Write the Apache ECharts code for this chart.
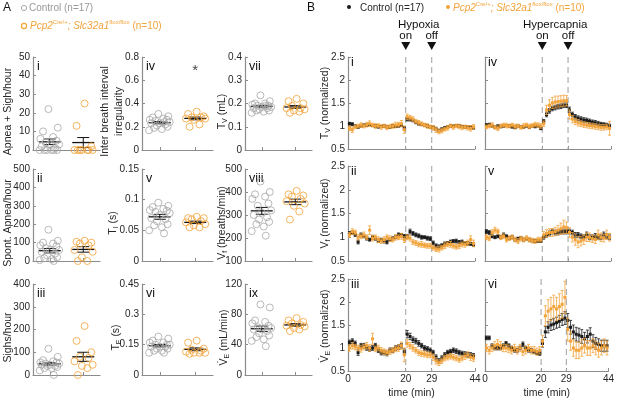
<!DOCTYPE html>
<html>
<head>
<meta charset="utf-8">
<script src="https://cdn.jsdelivr.net/npm/echarts@6/dist/echarts.min.js"></script>
<style>
html, body { margin: 0; padding: 0; background: #fff; }
#main { width: 617px; height: 400px; }
</style>
</head>
<body>
<div id="main"></div>
<script>
// ---- panel A : per-animal values (control n=17, mutant n=10) ----
var groupX = [0.25, 0.75];
var ctrlJitter = [-0.02, 0.12, -0.1, 0.05, -0.14, 0.1, -0.06, 0.14, 0.0, -0.12, 0.08, -0.04, 0.11, -0.08, 0.03, -0.15, 0.06];
var mutJitter = [0.02, -0.1, 0.12, -0.05, 0.08, -0.13, 0.14, -0.02, 0.06, -0.08];

var ctrlApneaSigh = [22, 12, 10, 7, 6, 5, 4, 3, 3, 2, 1, 0, 0, 0, 0, 0, 0];
var mutApneaSigh = [25, 13, 2, 0, 0, 0, 0, 0, 0, 0];
var meanApneaSigh = [4.4, 4.0];
var semApneaSigh = [1.5, 2.7];

var ctrlIrreg = [0.31, 0.29, 0.28, 0.27, 0.26, 0.26, 0.25, 0.24, 0.23, 0.23, 0.22, 0.21, 0.20, 0.19, 0.18, 0.17, 0.24];
var mutIrreg = [0.33, 0.31, 0.29, 0.28, 0.28, 0.27, 0.27, 0.26, 0.22, 0.20];
var meanIrreg = [0.235, 0.272];
var semIrreg = [0.01, 0.012];
var starIrreg = 0.68;

var ctrlTv = [0.235, 0.21, 0.20, 0.20, 0.195, 0.19, 0.19, 0.185, 0.185, 0.18, 0.18, 0.175, 0.17, 0.17, 0.165, 0.16, 0.19];
var mutTv = [0.22, 0.21, 0.20, 0.19, 0.18, 0.18, 0.175, 0.17, 0.165, 0.16];
var meanTv = [0.188, 0.185];
var semTv = [0.004, 0.006];

var ctrlApnea = [170, 110, 100, 95, 85, 80, 70, 60, 60, 50, 40, 30, 20, 15, 10, 5, 0];
var mutApnea = [110, 105, 100, 95, 85, 60, 50, 20, 0, 0];
var meanApnea = [56, 63];
var semApnea = [12, 15];

var ctrlTi = [0.095, 0.09, 0.088, 0.085, 0.083, 0.082, 0.08, 0.078, 0.075, 0.07, 0.068, 0.065, 0.06, 0.058, 0.055, 0.05, 0.045];
var mutTi = [0.072, 0.07, 0.07, 0.068, 0.065, 0.063, 0.06, 0.058, 0.055, 0.055];
var meanTi = [0.072, 0.063];
var semTi = [0.004, 0.002];

var ctrlVf = [445, 400, 390, 380, 370, 350, 340, 320, 310, 300, 290, 280, 270, 260, 250, 230, 210];
var mutVf = [405, 390, 385, 380, 370, 360, 350, 340, 315, 280];
var meanVf = [318, 357];
var semVf = [15, 12];

var ctrlSighs = [115, 80, 65, 60, 55, 55, 50, 50, 45, 45, 40, 40, 35, 30, 30, 20, 0];
var mutSighs = [215, 150, 100, 80, 75, 60, 45, 40, 30, 0];
var meanSighs = [49, 80];
var semSighs = [6, 20];

var ctrlTe = [0.19, 0.18, 0.17, 0.16, 0.16, 0.15, 0.15, 0.15, 0.14, 0.14, 0.14, 0.13, 0.13, 0.12, 0.12, 0.11, 0.11];
var mutTe = [0.17, 0.16, 0.13, 0.125, 0.12, 0.115, 0.11, 0.11, 0.11, 0.105];
var meanTe = [0.145, 0.127];
var semTe = [0.006, 0.007];

var ctrlVe = [93, 89, 72, 70, 68, 65, 63, 62, 60, 60, 58, 55, 52, 50, 47, 45, 38];
var mutVe = [75, 72, 70, 68, 66, 65, 64, 62, 60, 58];
var meanVe = [61, 66];
var semVe = [3.5, 1.7];

// ---- panel B : normalized time course (mean, sem) ----
var timeMin = [0.5, 1.5, 2.5, 3.5, 4.5, 5.5, 6.5, 7.5, 8.5, 9.5, 10.5, 11.5, 12.5, 13.5, 14.5, 15.5, 16.5, 17.5, 18.5, 19.5,
  20.5, 21.5, 22.5, 23.5, 24.5, 25.5, 26.5, 27.5, 28.5,
  29.5, 30.5, 31.5, 32.5, 33.5, 34.5, 35.5, 36.5, 37.5, 38.5, 39.5, 40.5, 41.5, 42.5, 43.5];
var timeTicks = [0, 20, 29, 44];
var eventTimes = [20, 29];
var eventLabels = ['on', 'off'];

var tvHypCtrl = [1.05, 1.04, 1.00, 0.98, 1.00, 1.02, 1.02, 1.03, 1.01, 1.00, 0.98, 0.99, 1.00, 0.98, 0.97, 1.00, 0.99, 1.00, 1.02, 0.95,
  1.15, 1.14, 1.12, 1.08, 1.05, 1.03, 1.02, 1.00, 0.98,
  0.97, 0.93, 0.90, 0.93, 0.96, 0.98, 1.00, 1.00, 1.01, 1.00, 0.99, 0.98, 0.98, 0.97, 0.96];
var tvHypCtrlErr = [0.03, 0.03, 0.02, 0.03, 0.02, 0.02, 0.03, 0.02, 0.02, 0.03, 0.02, 0.02, 0.03, 0.02, 0.02, 0.03, 0.02, 0.02, 0.03, 0.04,
  0.04, 0.03, 0.03, 0.03, 0.03, 0.02, 0.02, 0.03, 0.02,
  0.03, 0.03, 0.03, 0.03, 0.02, 0.03, 0.03, 0.02, 0.02, 0.03, 0.02, 0.03, 0.02, 0.03, 0.03];
var tvHypMut = [0.95, 0.92, 0.98, 1.00, 1.02, 1.00, 1.03, 1.05, 1.02, 1.00, 1.01, 0.98, 1.00, 0.97, 0.99, 1.00, 1.02, 1.03, 1.05, 0.92,
  1.20, 1.18, 1.15, 1.10, 1.07, 1.05, 1.02, 1.00, 0.98,
  0.96, 0.92, 0.88, 0.90, 0.93, 0.96, 1.00, 0.98, 1.00, 0.99, 0.97, 0.98, 0.96, 0.95, 0.98];
var tvHypMutErr = [0.05, 0.06, 0.04, 0.04, 0.05, 0.04, 0.05, 0.06, 0.04, 0.05, 0.04, 0.05, 0.04, 0.05, 0.04, 0.05, 0.06, 0.05, 0.07, 0.08,
  0.06, 0.05, 0.05, 0.04, 0.05, 0.04, 0.04, 0.05, 0.04,
  0.05, 0.06, 0.05, 0.05, 0.04, 0.05, 0.04, 0.05, 0.04, 0.05, 0.05, 0.04, 0.05, 0.06, 0.05];

var tvHcCtrl = [1.02, 1.03, 1.00, 0.98, 1.00, 0.99, 1.00, 1.01, 1.00, 0.98, 0.97, 1.00, 0.99, 0.98, 1.00, 0.98, 1.00, 0.99, 1.00, 0.95,
  1.10, 1.25, 1.33, 1.38, 1.40, 1.42, 1.43, 1.45, 1.45,
  1.35, 1.25, 1.20, 1.17, 1.15, 1.13, 1.12, 1.10, 1.08, 1.07, 1.05, 1.04, 1.03, 1.02, 1.00];
var tvHcCtrlErr = [0.03, 0.03, 0.02, 0.03, 0.02, 0.03, 0.02, 0.02, 0.03, 0.02, 0.03, 0.02, 0.02, 0.03, 0.02, 0.03, 0.02, 0.03, 0.02, 0.03,
  0.04, 0.05, 0.05, 0.05, 0.05, 0.05, 0.05, 0.05, 0.05,
  0.06, 0.05, 0.05, 0.05, 0.05, 0.05, 0.05, 0.05, 0.05, 0.05, 0.05, 0.04, 0.04, 0.04, 0.04];
var tvHcMut = [0.98, 1.00, 1.02, 0.97, 0.95, 1.00, 1.02, 1.01, 1.00, 1.02, 0.99, 1.00, 0.97, 1.00, 1.02, 0.99, 1.01, 1.03, 1.02, 1.00,
  1.05, 1.35, 1.45, 1.50, 1.52, 1.53, 1.54, 1.55, 1.55,
  1.25, 1.15, 1.10, 1.07, 1.05, 1.03, 1.02, 1.01, 1.00, 0.99, 0.98, 0.97, 0.97, 0.98, 0.95];
var tvHcMutErr = [0.04, 0.04, 0.05, 0.04, 0.05, 0.04, 0.04, 0.05, 0.04, 0.04, 0.05, 0.04, 0.04, 0.05, 0.04, 0.05, 0.04, 0.05, 0.05, 0.05,
  0.06, 0.10, 0.12, 0.12, 0.13, 0.12, 0.12, 0.12, 0.11,
  0.10, 0.08, 0.07, 0.07, 0.06, 0.06, 0.06, 0.06, 0.06, 0.06, 0.06, 0.06, 0.06, 0.06, 0.15];

var vfHypCtrl = [1.08, 1.10, 1.05, 0.90, 1.05, 1.02, 0.98, 0.95, 1.00, 0.97, 0.93, 0.95, 0.92, 0.90, 0.95, 0.97, 1.00, 1.05, 1.05, 1.02,
  1.02, 1.12, 1.08, 1.05, 1.03, 1.00, 1.00, 0.98, 0.97,
  0.88, 0.82, 0.80, 0.83, 0.86, 0.88, 0.90, 0.92, 0.92, 0.90, 0.90, 0.88, 0.87, 0.86, 0.85];
var vfHypCtrlErr = [0.04, 0.04, 0.03, 0.04, 0.04, 0.03, 0.04, 0.03, 0.04, 0.03, 0.04, 0.03, 0.04, 0.04, 0.03, 0.04, 0.03, 0.04, 0.03, 0.04,
  0.04, 0.05, 0.04, 0.04, 0.04, 0.04, 0.03, 0.04, 0.04,
  0.04, 0.04, 0.04, 0.03, 0.04, 0.03, 0.04, 0.03, 0.04, 0.03, 0.04, 0.03, 0.04, 0.03, 0.04];
var vfHypMut = [1.05, 1.12, 1.10, 1.00, 1.02, 1.05, 1.00, 1.15, 0.98, 1.00, 0.95, 0.92, 0.95, 1.00, 0.97, 0.95, 1.00, 1.00, 1.02, 0.95,
  1.00, 0.98, 0.90, 0.88, 0.85, 0.85, 0.83, 0.82, 0.82,
  0.78, 0.75, 0.75, 0.78, 0.82, 0.85, 0.85, 0.82, 0.80, 0.82, 0.85, 0.85, 0.88, 0.95, 0.87];
var vfHypMutErr = [0.05, 0.06, 0.05, 0.06, 0.05, 0.06, 0.05, 0.09, 0.06, 0.05, 0.06, 0.05, 0.06, 0.05, 0.06, 0.05, 0.06, 0.05, 0.06, 0.06,
  0.05, 0.06, 0.05, 0.05, 0.05, 0.06, 0.05, 0.05, 0.05,
  0.05, 0.05, 0.06, 0.05, 0.06, 0.05, 0.06, 0.05, 0.05, 0.06, 0.05, 0.06, 0.06, 0.08, 0.07];

var vfHcCtrl = [1.12, 1.10, 1.02, 1.00, 1.02, 1.00, 1.05, 1.02, 0.98, 1.00, 0.95, 0.97, 0.98, 0.95, 0.97, 0.95, 0.93, 0.92, 0.92, 0.92,
  1.00, 1.05, 1.08, 1.12, 1.10, 1.10, 1.12, 1.12, 1.12,
  1.12, 1.10, 1.05, 1.05, 1.02, 1.00, 1.05, 1.00, 1.00, 1.02, 1.00, 1.00, 1.05, 1.02, 1.00];
var vfHcCtrlErr = [0.04, 0.04, 0.03, 0.03, 0.03, 0.03, 0.04, 0.03, 0.03, 0.03, 0.03, 0.03, 0.03, 0.03, 0.03, 0.03, 0.03, 0.03, 0.03, 0.03,
  0.04, 0.05, 0.05, 0.05, 0.05, 0.05, 0.05, 0.05, 0.05,
  0.05, 0.05, 0.05, 0.05, 0.05, 0.05, 0.06, 0.05, 0.05, 0.06, 0.05, 0.05, 0.06, 0.05, 0.05];
var vfHcMut = [1.00, 0.98, 1.10, 1.15, 1.12, 1.00, 1.02, 0.95, 0.98, 1.00, 0.95, 0.92, 0.97, 0.95, 0.98, 0.95, 0.93, 0.92, 0.95, 0.95,
  1.05, 1.08, 1.10, 1.10, 1.12, 1.15, 1.18, 1.22, 1.20,
  1.10, 1.00, 0.95, 0.90, 0.92, 0.95, 1.00, 1.00, 0.97, 0.95, 1.05, 1.00, 0.98, 1.05, 1.00];
var vfHcMutErr = [0.05, 0.05, 0.06, 0.06, 0.05, 0.05, 0.05, 0.05, 0.05, 0.05, 0.05, 0.05, 0.05, 0.05, 0.05, 0.05, 0.05, 0.05, 0.05, 0.05,
  0.07, 0.08, 0.08, 0.08, 0.09, 0.10, 0.12, 0.14, 0.12,
  0.10, 0.10, 0.12, 0.12, 0.10, 0.10, 0.09, 0.09, 0.08, 0.08, 0.10, 0.09, 0.08, 0.10, 0.08];

var veHypCtrl = [1.12, 1.15, 1.10, 0.90, 1.05, 1.05, 1.00, 0.98, 1.00, 1.05, 0.95, 0.90, 0.90, 0.88, 0.95, 0.95, 1.00, 1.02, 1.05, 0.92,
  1.30, 1.25, 1.18, 1.15, 1.10, 1.05, 1.00, 0.98, 0.95,
  0.90, 0.80, 0.72, 0.78, 0.85, 0.90, 0.92, 0.95, 0.93, 0.90, 0.88, 0.87, 0.85, 0.85, 0.83];
var veHypCtrlErr = [0.05, 0.05, 0.05, 0.06, 0.05, 0.05, 0.05, 0.05, 0.05, 0.05, 0.05, 0.05, 0.05, 0.05, 0.05, 0.05, 0.05, 0.05, 0.05, 0.06,
  0.08, 0.07, 0.06, 0.06, 0.06, 0.05, 0.05, 0.05, 0.05,
  0.05, 0.05, 0.05, 0.05, 0.05, 0.05, 0.05, 0.05, 0.05, 0.05, 0.05, 0.05, 0.05, 0.05, 0.05];
var veHypMut = [1.00, 1.05, 1.02, 1.00, 0.98, 1.02, 1.05, 1.00, 1.20, 0.98, 1.00, 0.95, 0.92, 0.90, 0.92, 0.95, 0.98, 1.00, 1.05, 0.85,
  1.10, 1.05, 1.00, 0.95, 0.90, 0.88, 0.87, 0.85, 0.85,
  0.80, 0.72, 0.68, 0.72, 0.78, 0.80, 0.82, 0.80, 0.78, 0.75, 0.78, 0.82, 0.85, 0.80, 0.78];
var veHypMutErr = [0.07, 0.07, 0.06, 0.06, 0.07, 0.06, 0.07, 0.07, 0.12, 0.06, 0.06, 0.06, 0.06, 0.06, 0.06, 0.06, 0.06, 0.07, 0.08, 0.15,
  0.08, 0.07, 0.07, 0.06, 0.06, 0.06, 0.06, 0.06, 0.06,
  0.07, 0.07, 0.06, 0.06, 0.06, 0.06, 0.06, 0.06, 0.06, 0.06, 0.06, 0.07, 0.07, 0.07, 0.07];

var veHcCtrl = [1.22, 1.22, 1.05, 1.00, 1.00, 1.00, 1.05, 1.10, 1.05, 1.00, 0.95, 0.95, 1.00, 1.08, 1.00, 0.95, 0.95, 0.92, 0.90, 0.88,
  1.10, 1.35, 1.45, 1.50, 1.52, 1.55, 1.58, 1.62, 1.65,
  1.60, 1.45, 1.35, 1.30, 1.28, 1.25, 1.20, 1.25, 1.30, 1.15, 1.10, 1.08, 1.05, 1.05, 1.05];
var veHcCtrlErr = [0.04, 0.04, 0.04, 0.04, 0.04, 0.04, 0.04, 0.04, 0.04, 0.04, 0.04, 0.04, 0.04, 0.05, 0.04, 0.04, 0.04, 0.04, 0.04, 0.04,
  0.08, 0.12, 0.12, 0.12, 0.12, 0.12, 0.13, 0.13, 0.14,
  0.15, 0.15, 0.15, 0.15, 0.15, 0.15, 0.14, 0.14, 0.14, 0.14, 0.13, 0.12, 0.12, 0.12, 0.12];
var veHcMut = [1.00, 0.95, 1.00, 1.05, 1.08, 1.05, 1.00, 1.00, 0.98, 0.95, 1.00, 0.95, 1.00, 0.92, 0.95, 1.00, 0.95, 0.95, 0.92, 0.95,
  1.15, 1.70, 1.80, 1.85, 1.90, 1.85, 1.90, 1.95, 2.10,
  1.40, 1.15, 1.00, 0.95, 0.95, 1.00, 1.05, 1.00, 1.00, 1.05, 1.00, 0.95, 1.00, 1.05, 1.00];
var veHcMutErr = [0.08, 0.08, 0.08, 0.09, 0.10, 0.09, 0.08, 0.08, 0.08, 0.08, 0.08, 0.08, 0.08, 0.08, 0.08, 0.08, 0.08, 0.08, 0.08, 0.08,
  0.12, 0.22, 0.25, 0.25, 0.25, 0.25, 0.28, 0.30, 0.35,
  0.25, 0.20, 0.18, 0.18, 0.18, 0.18, 0.16, 0.16, 0.16, 0.15, 0.15, 0.15, 0.15, 0.15, 0.15];

// ---- styles / layout ----
var FONT = '"Liberation Sans", Arial, sans-serif';
var ctrlGray = '#a8a8a8';
var mutOrange = '#f2a33a';
var ctrlBlack = '#1a1a1a';
var axisGray = '#8c8c8c';
var textDark = '#262626';

var colsA = [{left: 33, width: 67}, {left: 142, width: 71}, {left: 245, width: 67}];
var rowsA = [{top: 57, height: 93}, {top: 169, height: 92}, {top: 284, height: 91}];
var colsB = [{left: 348, width: 127}, {left: 485, width: 126}];
var rowsB = [{top: 57, height: 92}, {top: 166, height: 95}, {top: 279, height: 94}];

var subRich = {
  sub: {fontSize: 7, verticalAlign: 'bottom', lineHeight: 7, fontFamily: FONT, fill: textDark}
};

var panelsA = [
  {r: 0, c: 0, tag: 'i', ctrl: ctrlApneaSigh, mut: mutApneaSigh, mean: meanApneaSigh, sem: semApneaSigh, min: 0, max: 50, step: 10,
    label: 'Apnea + Sigh/hour', lx: 8},
  {r: 0, c: 1, tag: 'iv', ctrl: ctrlIrreg, mut: mutIrreg, mean: meanIrreg, sem: semIrreg, min: 0, max: 0.8, step: 0.2,
    label: 'Inter breath interval\nirregularity', lx: 112, star: starIrreg},
  {r: 0, c: 2, tag: 'vii', ctrl: ctrlTv, mut: mutTv, mean: meanTv, sem: semTv, min: 0, max: 0.4, step: 0.1,
    label: 'T{sub|V} (mL)', lx: 222},
  {r: 1, c: 0, tag: 'ii', ctrl: ctrlApnea, mut: mutApnea, mean: meanApnea, sem: semApnea, min: 0, max: 500, step: 100,
    label: 'Spont. Apnea/hour', lx: 8},
  {r: 1, c: 1, tag: 'v', ctrl: ctrlTi, mut: mutTi, mean: meanTi, sem: semTi, min: 0, max: 0.15, step: 0.05,
    label: 'T{sub|I} (s)', lx: 113},
  {r: 1, c: 2, tag: 'viii', ctrl: ctrlVf, mut: mutVf, mean: meanVf, sem: semVf, min: 100, max: 500, step: 100,
    label: 'V{sub|f} (breaths/min)', lx: 222},
  {r: 2, c: 0, tag: 'iii', ctrl: ctrlSighs, mut: mutSighs, mean: meanSighs, sem: semSighs, min: 0, max: 400, step: 100,
    label: 'Sighs/hour', lx: 8},
  {r: 2, c: 1, tag: 'vi', ctrl: ctrlTe, mut: mutTe, mean: meanTe, sem: semTe, min: 0, max: 0.45, step: 0.15,
    label: 'T{sub|E} (s)', lx: 116},
  {r: 2, c: 2, tag: 'ix', ctrl: ctrlVe, mut: mutVe, mean: meanVe, sem: semVe, min: 0, max: 120, step: 40,
    label: 'V\u0307{sub|E} (mL/min)', lx: 224}
];

var panelsB = [
  {r: 0, c: 0, tag: 'i', ctrl: tvHypCtrl, ctrlErr: tvHypCtrlErr, mut: tvHypMut, mutErr: tvHypMutErr, title: 'Hypoxia'},
  {r: 0, c: 1, tag: 'iv', ctrl: tvHcCtrl, ctrlErr: tvHcCtrlErr, mut: tvHcMut, mutErr: tvHcMutErr, title: 'Hypercapnia'},
  {r: 1, c: 0, tag: 'ii', ctrl: vfHypCtrl, ctrlErr: vfHypCtrlErr, mut: vfHypMut, mutErr: vfHypMutErr},
  {r: 1, c: 1, tag: 'v', ctrl: vfHcCtrl, ctrlErr: vfHcCtrlErr, mut: vfHcMut, mutErr: vfHcMutErr},
  {r: 2, c: 0, tag: 'iii', ctrl: veHypCtrl, ctrlErr: veHypCtrlErr, mut: veHypMut, mutErr: veHypMutErr},
  {r: 2, c: 1, tag: 'vi', ctrl: veHcCtrl, ctrlErr: veHcCtrlErr, mut: veHcMut, mutErr: veHcMutErr}
];
var labelsB = ['T{sub|V} (normalized)', 'V{sub|f} (normalized)', 'V\u0307{sub|E} (normalized)'];

// mean line + sem bar for the dot plots
function meanSemItem(params, api) {
  var x = api.value(0), m = api.value(1), s = api.value(2);
  var c = api.coord([x, m]);
  var hi = api.coord([x, m + s]);
  var lo = api.coord([x, m - s]);
  var st = {stroke: '#111', lineWidth: 1};
  return {
    type: 'group',
    children: [
      {type: 'line', shape: {x1: c[0] - 11, y1: c[1], x2: c[0] + 11, y2: c[1]}, style: {stroke: '#111', lineWidth: 1.3}},
      {type: 'line', shape: {x1: c[0], y1: hi[1], x2: c[0], y2: lo[1]}, style: st},
      {type: 'line', shape: {x1: c[0] - 6, y1: hi[1], x2: c[0] + 6, y2: hi[1]}, style: st},
      {type: 'line', shape: {x1: c[0] - 6, y1: lo[1], x2: c[0] + 6, y2: lo[1]}, style: st}
    ]
  };
}

// dot + error bar for the time courses
function errDotItem(color) {
  return function (params, api) {
    var t = api.value(0), m = api.value(1), e = api.value(2);
    var c = api.coord([t, m]);
    var hi = api.coord([t, m + e]);
    var lo = api.coord([t, m - e]);
    var st = {stroke: color, lineWidth: 0.8};
    return {
      type: 'group',
      children: [
        {type: 'line', shape: {x1: c[0], y1: hi[1], x2: c[0], y2: lo[1]}, style: st},
        {type: 'line', shape: {x1: c[0] - 1.5, y1: hi[1], x2: c[0] + 1.5, y2: hi[1]}, style: st},
        {type: 'line', shape: {x1: c[0] - 1.5, y1: lo[1], x2: c[0] + 1.5, y2: lo[1]}, style: st},
        {type: 'rect', shape: {x: c[0] - 1.5, y: c[1] - 1.5, width: 3, height: 3}, style: {fill: color}}
      ]
    };
  };
}

// dashed lines at stimulus on/off
function eventLineItem(params, api) {
  var cs = params.coordSys;
  var x = api.coord([api.value(0), 1])[0];
  return {
    type: 'line',
    shape: {x1: x, y1: cs.y, x2: x, y2: cs.y + cs.height},
    style: {stroke: '#a8a8a8', lineWidth: 1.1, lineDash: [6, 4]}
  };
}

// triangles + on/off + stimulus name above top row
function eventMarkItem(title) {
  return function (params, api) {
    var cs = params.coordSys;
    var x = api.coord([api.value(0), 1])[0];
    var top = cs.y;
    var kids = [
      {type: 'polygon', shape: {points: [[x - 4.5, top - 15], [x + 4.5, top - 15], [x, top - 7]]}, style: {fill: '#111'}},
      {type: 'text', style: {text: eventLabels[params.dataIndex], x: x, y: top - 21, align: 'center', verticalAlign: 'middle',
        font: '11.5px ' + FONT, fill: '#111'}}
    ];
    if (params.dataIndex === 0) {
      var mid = api.coord([(eventTimes[0] + eventTimes[1]) / 2, 1])[0];
      kids.push({type: 'text', style: {text: title, x: mid, y: top - 32, align: 'center', verticalAlign: 'middle',
        font: '11.5px ' + FONT, fill: '#111'}});
    }
    return {type: 'group', children: kids};
  };
}

function vLabel(x, y, text) {
  return {
    type: 'text', x: x, y: y, rotation: Math.PI / 2, silent: true,
    style: {text: text, rich: subRich, align: 'center', verticalAlign: 'middle',
      font: '10.5px ' + FONT, fill: textDark, lineHeight: 14}
  };
}

function tagText(x, y, text) {
  return {type: 'text', x: x, y: y, silent: true,
    style: {text: text, align: 'left', verticalAlign: 'middle', font: '12.5px ' + FONT, fill: '#111'}};
}

var grids = [], xAxes = [], yAxes = [], series = [], graphics = [];

panelsA.forEach(function (p) {
  var gi = grids.length;
  var col = colsA[p.c], row = rowsA[p.r];
  grids.push({left: col.left, width: col.width, top: row.top, height: row.height});
  xAxes.push({
    gridIndex: gi, type: 'value', min: 0, max: 1,
    axisLine: {lineStyle: {color: axisGray, width: 1.2}},
    axisTick: {customValues: groupX, inside: true, length: 3, lineStyle: {color: axisGray}},
    axisLabel: {show: false}, splitLine: {show: false}
  });
  yAxes.push({
    gridIndex: gi, type: 'value', min: p.min, max: p.max, interval: p.step,
    axisLine: {show: true, lineStyle: {color: axisGray, width: 1.2}},
    axisTick: {show: true, inside: true, length: 3, lineStyle: {color: axisGray}},
    axisLabel: {fontSize: 10, color: textDark, margin: 3, fontFamily: FONT},
    splitLine: {show: false}
  });
  series.push({
    type: 'scatter', xAxisIndex: gi, yAxisIndex: gi, symbol: 'circle', symbolSize: 7, silent: true,
    itemStyle: {color: 'rgba(255,255,255,0)', borderColor: ctrlGray, borderWidth: 1},
    data: p.ctrl.map(function (v, i) { return [groupX[0] + ctrlJitter[i], v]; })
  });
  series.push({
    type: 'scatter', xAxisIndex: gi, yAxisIndex: gi, symbol: 'circle', symbolSize: 7, silent: true,
    itemStyle: {color: 'rgba(255,255,255,0)', borderColor: mutOrange, borderWidth: 1},
    data: p.mut.map(function (v, i) { return [groupX[1] + mutJitter[i], v]; })
  });
  series.push({
    type: 'custom', xAxisIndex: gi, yAxisIndex: gi, silent: true, renderItem: meanSemItem,
    data: [[groupX[0], p.mean[0], p.sem[0]], [groupX[1], p.mean[1], p.sem[1]]]
  });
  if (p.star != null) {
    series.push({
      type: 'scatter', xAxisIndex: gi, yAxisIndex: gi, symbolSize: 0, silent: true,
      label: {show: true, position: 'inside', formatter: '*', fontSize: 15, color: '#111', fontFamily: FONT},
      data: [[groupX[1], p.star]]
    });
  }
  graphics.push(tagText(col.left + 4, row.top + 10, p.tag));
  graphics.push(vLabel(p.lx, row.top + row.height / 2 + 8, p.label));
});

panelsB.forEach(function (p) {
  var gi = grids.length;
  var col = colsB[p.c], row = rowsB[p.r];
  var bottom = p.r === 2;
  grids.push({left: col.left, width: col.width, top: row.top, height: row.height});
  xAxes.push({
    gridIndex: gi, type: 'value', min: 0, max: 44,
    axisLine: {lineStyle: {color: axisGray, width: 1.2}},
    axisTick: {customValues: timeTicks, inside: true, length: 3, lineStyle: {color: axisGray}},
    axisLabel: {show: bottom, customValues: timeTicks, fontSize: 10, color: textDark, margin: 3, fontFamily: FONT},
    name: bottom ? 'time (min)' : '', nameLocation: 'middle', nameGap: 17,
    nameTextStyle: {fontSize: 10.5, color: textDark, fontFamily: FONT},
    splitLine: {show: false}
  });
  yAxes.push({
    gridIndex: gi, type: 'value', min: 0.5, max: 2.5, interval: 0.5,
    axisLine: {show: true, lineStyle: {color: axisGray, width: 1.2}},
    axisTick: {show: true, inside: true, length: 3, lineStyle: {color: axisGray}},
    axisLabel: {show: p.c === 0, fontSize: 10, color: textDark, margin: 3, fontFamily: FONT},
    splitLine: {show: false}
  });
  series.push({
    type: 'custom', xAxisIndex: gi, yAxisIndex: gi, silent: true, renderItem: eventLineItem,
    data: eventTimes.map(function (t) { return [t]; })
  });
  series.push({
    type: 'custom', xAxisIndex: gi, yAxisIndex: gi, silent: true, renderItem: errDotItem(ctrlBlack),
    data: timeMin.map(function (t, i) { return [t, p.ctrl[i], p.ctrlErr[i]]; })
  });
  series.push({
    type: 'custom', xAxisIndex: gi, yAxisIndex: gi, silent: true, renderItem: errDotItem(mutOrange),
    data: timeMin.map(function (t, i) { return [t, p.mut[i], p.mutErr[i]]; })
  });
  if (p.title) {
    series.push({
      type: 'custom', xAxisIndex: gi, yAxisIndex: gi, silent: true, clip: false, renderItem: eventMarkItem(p.title),
      data: eventTimes.map(function (t) { return [t]; })
    });
  }
  graphics.push(tagText(col.left + 3, row.top + 6, p.tag));
  if (p.c === 0) {
    graphics.push(vLabel(325, row.top + row.height / 2, labelsB[p.r]));
  }
});

// panel letters and legends
graphics.push({type: 'text', x: 3, y: 8, silent: true,
  style: {text: 'A', font: '12px ' + FONT, fill: '#111', verticalAlign: 'middle'}});
graphics.push({type: 'text', x: 307, y: 8, silent: true,
  style: {text: 'B', font: '12px ' + FONT, fill: '#111', verticalAlign: 'middle'}});

var legendRich = {
  it: {fontStyle: 'italic', fontSize: 10, fontFamily: FONT, lineHeight: 14},
  sup: {fontSize: 6, verticalAlign: 'top', lineHeight: 6, fontFamily: FONT},
  n: {fontSize: 10, fontFamily: FONT, lineHeight: 14}
};
var mutLegendText = '{it|Pcp2}{sup|Cre/+}{it|; Slc32a1}{sup|flox/flox}{n| (n=10)}';

graphics.push({type: 'circle', shape: {cx: 24, cy: 8, r: 2.6}, silent: true, style: {fill: 'none', stroke: ctrlGray, lineWidth: 1}});
graphics.push({type: 'text', x: 29, y: 8, silent: true,
  style: {text: 'Control (n=17)', font: '10px ' + FONT, fill: '#999', verticalAlign: 'middle'}});
graphics.push({type: 'circle', shape: {cx: 24, cy: 26, r: 2.6}, silent: true, style: {fill: 'none', stroke: mutOrange, lineWidth: 1.2}});
graphics.push({type: 'text', x: 30, y: 26, silent: true,
  style: {text: mutLegendText, rich: legendRich, fill: mutOrange, verticalAlign: 'middle', font: '10px ' + FONT}});

graphics.push({type: 'circle', shape: {cx: 349, cy: 7, r: 2}, silent: true, style: {fill: ctrlBlack}});
graphics.push({type: 'text', x: 360, y: 8, silent: true,
  style: {text: 'Control (n=17)', font: '10px ' + FONT, fill: textDark, verticalAlign: 'middle'}});
graphics.push({type: 'circle', shape: {cx: 448, cy: 7, r: 2}, silent: true, style: {fill: mutOrange}});
graphics.push({type: 'text', x: 453, y: 8, silent: true,
  style: {text: mutLegendText, rich: legendRich, fill: mutOrange, verticalAlign: 'middle', font: '10px ' + FONT}});

var chart = echarts.init(document.getElementById('main'));
chart.setOption({
  animation: false,
  backgroundColor: '#fff',
  grid: grids,
  xAxis: xAxes,
  yAxis: yAxes,
  series: series,
  graphic: graphics
});
</script>
</body>
</html>
